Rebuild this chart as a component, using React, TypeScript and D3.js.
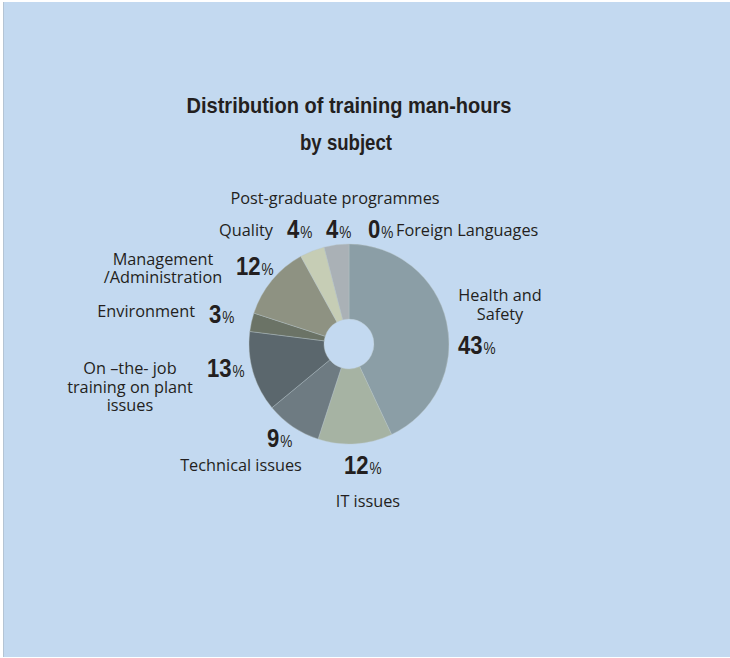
import React from "react";
import * as d3 from "d3";

const categories = [
  "Health and Safety",
  "IT issues",
  "Technical issues",
  "On –the- job training on plant issues",
  "Environment",
  "Management /Administration",
  "Quality",
  "Post-graduate programmes",
  "Foreign Languages",
];
const values = [43, 12, 9, 13, 3, 12, 4, 4, 0];
const colors = [
  "#8B9EA6",
  "#A6B3A3",
  "#6E7B82",
  "#5B676D",
  "#6B7366",
  "#8E9282",
  "#C6CDB5",
  "#AAB1B6",
  "#9AA4A8",
];
const titleLines = ["Distribution of training man-hours", "by subject"];

// label layout (positions only)
type Lab = { lines: string[]; nx: number; ny: number[]; anchor: string; px: number; py: number };
const labelLayout: Lab[] = [
  { lines: ["Health and", "Safety"], nx: 500, ny: [301, 320], anchor: "middle", px: 458, py: 354 },
  { lines: ["IT issues"], nx: 368, ny: [507], anchor: "middle", px: 344, py: 474 },
  { lines: ["Technical issues"], nx: 241, ny: [471], anchor: "middle", px: 267, py: 447 },
  { lines: ["On –the- job", "training on plant", "issues"], nx: 130, ny: [374, 392.5, 411], anchor: "middle", px: 207, py: 377 },
  { lines: ["Environment"], nx: 195, ny: [317], anchor: "end", px: 209, py: 323 },
  { lines: ["Management", "/Administration"], nx: 163, ny: [265, 283], anchor: "middle", px: 236, py: 275 },
  { lines: ["Quality"], nx: 273, ny: [236], anchor: "end", px: 287, py: 238 },
  { lines: ["Post-graduate programmes"], nx: 335, ny: [204], anchor: "middle", px: 326, py: 238 },
  { lines: ["Foreign Languages"], nx: 396, ny: [236], anchor: "start", px: 368, py: 238 },
];

const W = 730;
const H = 658;
const cx = 349;
const cy = 344;
const R = 100;
const r0 = 25;
const textColor = "#231F20";
const regFont = "'Open Sans', 'Noto Sans', sans-serif";
const boldFont = "'Liberation Sans', Arial, sans-serif";
const titleWidths = [325, 92];
const titleCenters = [349, 346];
const condense = 0.85;

export default function App() {
  const pie = d3
    .pie<number>()
    .sort(null)
    .value((d) => d)
    .startAngle(0)
    .endAngle(2 * Math.PI);
  const arcs = pie(values);
  const arc = d3.arc<d3.PieArcDatum<number>>().innerRadius(r0).outerRadius(R);

  return (
    <svg
      width={W}
      height={H}
      style={{ position: "absolute", left: 0, top: 0, display: "block" }}
    >
      <rect x={0} y={0} width={W} height={H} fill="#FFFFFF" />
      <rect x={3} y={2} width={W - 3} height={H - 3} fill="#C3D9F0" />
      <line x1={3.5} y1={2} x2={3.5} y2={H - 1} stroke="#B4C4D4" strokeWidth={1} />
      {titleLines.map((t, i) => (
        <text
          key={t}
          x={titleCenters[i] - titleWidths[i] / 2}
          y={113 + i * 37}
          textLength={titleWidths[i]}
          lengthAdjust="spacingAndGlyphs"
          fontFamily={boldFont}
          fontWeight="bold"
          fontSize={22.5}
          fill={textColor}
        >
          {t}
        </text>
      ))}
      <g transform={`translate(${cx},${cy})`}>
        {arcs.map((a, i) =>
          a.endAngle > a.startAngle ? (
            <path key={i} d={arc(a) || ""} fill={colors[i]} stroke="#B8C4C8" strokeWidth={0.4} />
          ) : null
        )}
      </g>
      {labelLayout.map((l, i) => (
        <g key={categories[i]}>
          <text
            textAnchor={l.anchor}
            fontFamily={regFont}
            fontSize={16.3}
            fill={textColor}
          >
            {l.lines.map((ln, j) => (
              <tspan key={j} x={l.nx} y={l.ny[j]}>
                {ln}
              </tspan>
            ))}
          </text>
          <text
            transform={`translate(${l.px},${l.py}) scale(${condense},1)`}
            fill={textColor}
          >
            <tspan fontFamily={boldFont} fontWeight="bold" fontSize={26}>
              {values[i]}
            </tspan>
            <tspan fontFamily={boldFont} fontSize={16} dx={1}>
              %
            </tspan>
          </text>
        </g>
      ))}
    </svg>
  );
}
